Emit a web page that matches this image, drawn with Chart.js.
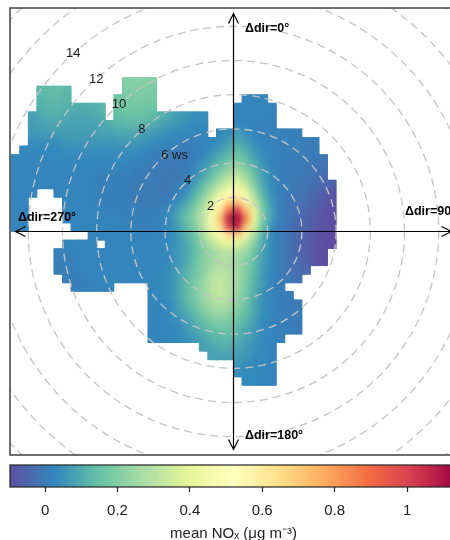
<!DOCTYPE html>
<html><head><meta charset="utf-8">
<script src="https://cdn.jsdelivr.net/npm/chart.js@4/dist/chart.umd.min.js"></script>
<style>
html,body{margin:0;padding:0;background:#fff;overflow:hidden;width:450px;height:540px;position:relative;}
#main{position:absolute;left:0;top:0;}
#bar{position:absolute;left:0;top:455px;}
</style></head><body>
<canvas id="main" width="470" height="460"></canvas>
<canvas id="bar" width="470" height="88"></canvas>
<script>
const _ = null;
// grid cell centres (wind-speed units, x = east/west, y = north/south)
const xCenters = [-12.75,-12.25,-11.75,-11.25,-10.75,-10.25,-9.75,-9.25,-8.75,-8.25,-7.75,-7.25,-6.75,-6.25,-5.75,-5.25,-4.75,-4.25,-3.75,-3.25,-2.75,-2.25,-1.75,-1.25,-0.75,-0.25,0.25,0.75,1.25,1.75,2.25,2.75,3.25,3.75,4.25,4.75,5.25,5.75];
const yCenters = [8.75,8.25,7.75,7.25,6.75,6.25,5.75,5.25,4.75,4.25,3.75,3.25,2.75,2.25,1.75,1.25,0.75,0.25,-0.25,-0.75,-1.25,-1.75,-2.25,-2.75,-3.25,-3.75,-4.25,-4.75,-5.25,-5.75,-6.25,-6.75,-7.25,-7.75,-8.25,-8.75];
// first column index of each row
const rowStart = [13,3,3,3,2,2,2,2,1,0,0,0,0,0,0,0,0,0,9,6,5,5,5,6,7,16,16,16,16,16,16,22,23,26,26,27];
// mean NOx per cell (null = no data)
const noxRows = [
[.20,.21,.21,.20],
[.13,.14,.14,.13,_,_,_,_,_,_,.19,.20,.20,.19],
[.12,.13,.13,.12,_,_,_,_,_,.17,.18,.19,.19,.18,_,_,_,_,_,_,_,_,_,_,.02,.02,.02],
[.11,.12,.12,.11,.11,.11,.11,.12,_,.16,.17,.17,.17,.16,_,_,_,_,_,_,_,_,_,.02,.02,.02,.02,.02],
[.08,.09,.11,.11,.09,.09,.09,.09,.11,_,.14,.15,.15,.15,.14,.12,.09,.07,.06,.04,.04,_,_,_,.02,.02,.02,.02,.02],
[.07,.08,.09,.09,.09,.08,.08,.08,.09,.11,.12,.13,.13,.12,.11,.08,.07,.06,.04,.03,.03,_,_,_,.02,.02,.02,.01,.01],
[.06,.07,.07,.07,.07,.07,.07,.07,.08,.08,.09,.09,.09,.08,.07,.06,.04,.03,.03,.02,.02,_,.03,.04,.07,.04,.02,.01,.01,.01,.01,.01],
[.04,.04,.04,.04,.06,.06,.06,.06,.06,.06,.07,.07,.07,.06,.04,.03,.02,.02,.01,.01,.02,.03,.04,.07,.09,.07,.03,.02,.01,.01,.01,.01,.01,.01],
[.03,.03,.03,.03,.03,.04,.04,.04,.04,.04,.04,.04,.04,.04,.03,.02,.01,.01,0,0,.01,.02,.04,.07,.11,.14,.11,.06,.03,.02,.01,.01,.01,0,0],
[.02,.02,.02,.02,.02,.03,.03,.03,.03,.03,.03,.03,.03,.03,.02,.02,.01,0,0,-.01,0,.01,.03,.07,.11,.15,.18,.14,.08,.04,.02,.01,.01,0,0,0,-.01],
[.02,.02,.02,.02,.02,.02,.02,.02,.02,.02,.02,.02,.02,.02,.01,.01,0,0,-.01,-.01,0,.02,.06,.11,.16,.21,.24,.19,.12,.06,.02,.01,0,0,-.01,-.01,-.02],
[.02,.02,.02,.02,.02,.02,.02,.02,.02,.02,.01,.01,.01,.01,.01,0,0,-.01,-.01,-.01,.01,.04,.09,.15,.22,.28,.31,.25,.15,.07,.03,.01,0,-.01,-.01,-.02,-.03],
[.02,.02,.02,.02,.02,.02,.02,.02,.02,.02,.01,.01,.01,.01,0,0,0,-.01,-.01,0,.02,.07,.14,.21,.30,.37,.40,.32,.19,.09,.03,.01,0,-.01,-.02,-.03,-.04,-.05],
[.02,.02,.02,_,_,.02,.02,.02,.02,.02,.01,.01,.01,.01,0,0,0,-.01,-.01,.01,.04,.11,.19,.29,.40,.50,.55,.42,.25,.12,.04,.01,0,-.01,-.02,-.04,-.06,-.08],
[.02,.02,_,_,_,_,.02,.02,.02,.02,.01,.01,.01,.01,0,0,0,0,.01,.03,.08,.15,.25,.38,.52,.66,.70,.54,.32,.15,.06,.01,-.01,-.02,-.03,-.05,-.07,-.09],
[.02,.02,_,_,_,_,.02,.02,.02,.02,.02,.01,.01,.01,.01,.01,.01,.01,.03,.07,.13,.20,.30,.44,.60,.88,1.00,.72,.40,.18,.07,.01,-.01,-.03,-.04,-.06,-.08,-.10],
[.02,.02,_,_,_,_,.02,.02,.02,.02,.02,.02,.02,.01,.01,.01,.01,.02,.04,.09,.15,.22,.33,.48,.72,1.08,1.13,.85,.42,.18,.07,.01,-.01,-.03,-.05,-.07,-.09,-.10],
[.02,.02,_,_,_,_,_,.02,.02,.02,.02,.02,.02,.02,.01,.01,.01,.02,.03,.07,.13,.20,.30,.45,.65,1.00,1.08,.70,.36,.15,.04,0,-.02,-.04,-.05,-.07,-.09,-.10],
[.02,.02,.02,.02,.02,.02,.02,.02,.02,.03,.06,.11,.17,.26,.38,.50,.62,.65,.45,.26,.11,.03,0,-.02,-.04,-.06,-.08,-.10,-.10],
[.02,.02,.02,.02,_,.02,.02,.02,.02,.02,.02,.02,.03,.06,.09,.15,.22,.30,.37,.40,.38,.30,.20,.09,.03,0,-.02,-.04,-.06,-.08,-.10,-.10],
[.01,.01,.02,.02,.02,.02,.02,.02,.02,.02,.02,.02,.02,.03,.06,.09,.14,.20,.25,.29,.30,.28,.24,.16,.08,.03,0,-.02,-.04,-.06,-.08,-.10],
[.01,.01,.01,.02,.02,.02,.02,.02,.02,.02,.02,.02,.02,.03,.06,.09,.15,.21,.25,.28,.28,.25,.21,.14,.07,.03,0,-.02,-.03,-.06,-.08,-.10],
[.01,.01,.01,.02,.02,.02,.02,.02,.02,.02,.02,.02,.03,.04,.07,.11,.16,.21,.27,.30,.28,.26,.20,.13,.07,.03,0,-.02,-.03,-.04],
[.01,.01,.01,.02,.02,.02,.02,.02,.02,.02,.02,.03,.04,.08,.12,.18,.23,.30,.32,.29,.26,.19,.12,.06,.02,0,-.01,-.02],
[.01,.01,.01,.02,.02,_,_,_,_,.02,.03,.04,.08,.13,.19,.24,.31,.33,.29,.25,.18,.11,.06,.02,0],
[.02,.03,.04,.08,.13,.19,.24,.30,.32,.28,.24,.17,.11,.04,.02,.01,0],
[.02,.02,.03,.07,.12,.17,.23,.27,.29,.27,.22,.16,.09,.04,.02,.01,0,0],
[.02,.02,.03,.07,.09,.14,.19,.23,.25,.23,.19,.14,.09,.04,.02,.01,0,0],
[.02,.02,.03,.04,.07,.11,.15,.18,.20,.19,.16,.12,.07,.03,.02,.01,0,0],
[.02,.02,.02,.03,.06,.09,.12,.14,.16,.16,.13,.09,.06,.03,.02,.01,.01,0],
[.02,.02,.02,.03,.04,.07,.09,.12,.13,.13,.11,.08,.06,.03,.02,.01],
[.08,.09,.11,.11,.09,.07,.04,.03,.02],
[.08,.08,.08,.07,.06,.04,.03,.02],
[.06,.04,.03,.03,.02],
[.04,.03,.03,.02,.02],
[.03,.03,.02,.02]
];
const ringValues = [2,4,6,8,10,12,14,16,18];
const ringLabels = ['2','4','6 ws','8','10','12','14'];
const dirLabels = ['\u0394dir=0\u00b0','\u0394dir=90\u00b0','\u0394dir=180\u00b0','\u0394dir=270\u00b0'];
const colorTicks = [0,0.2,0.4,0.6,0.8,1];
const paletteColors = ['#5E4FA2','#3288BD','#66C2A5','#ABDDA4','#E6F598','#FFFFBF','#FEE08B','#FDAE61','#F46D43','#D53E4F','#9E0142'];
const colorMin = -0.097, colorMax = 1.138;
const plotRange = 13.07;

function hexRgb(h){return [parseInt(h.slice(1,3),16),parseInt(h.slice(3,5),16),parseInt(h.slice(5,7),16)];}
const palRgb = paletteColors.map(hexRgb);
function valueColor(v){
  const n = palRgb.length - 1;
  let t = (v - colorMin) / (colorMax - colorMin);
  t = Math.min(1, Math.max(0, t)) * n;
  const i = Math.min(Math.floor(t), n - 1), f = t - i;
  const a = palRgb[i], b = palRgb[i+1];
  return 'rgb(' + [0,1,2].map(k => Math.round(a[k] + (b[k]-a[k])*f)).join(',') + ')';
}

const cells = [];
noxRows.forEach((row, r) => row.forEach((v, k) => {
  if (v === null || v === undefined) return;
  cells.push({x: xCenters[rowStart[r] + k], y: yCenters[r], v: v});
}));
const cellSize = xCenters[1] - xCenters[0];
function cellRadius(chart){
  const s = chart.scales.x;
  const side = Math.abs(s.getPixelForValue(cellSize) - s.getPixelForValue(0));
  return (side / 2 + 0.4) * Math.SQRT2;
}

const FONT = '"Liberation Sans", Arial, Helvetica, sans-serif';

// softens the cell edges inside the surface (surface is a smooth fit in the original)
const smoothLayer = {
  id: 'smoothLayer',
  afterDatasetDraw(chart, args){
    const ctx = chart.ctx, cv = chart.canvas;
    const off = document.createElement('canvas');
    off.width = cv.width; off.height = cv.height;
    off.getContext('2d').drawImage(cv, 0, 0);
    const half = cellRadius(chart) * Math.SQRT1_2;
    ctx.save();
    ctx.beginPath();
    args.meta.data.forEach(el => ctx.rect(el.x - half, el.y - half, 2 * half, 2 * half));
    ctx.clip();
    ctx.filter = 'blur(3px)';
    ctx.drawImage(off, 0, 0);
    ctx.restore();
  }
};

const polarDecor = {
  id: 'polarDecor',
  afterDatasetsDraw(chart){
    const {ctx, chartArea: a, scales: {x, y}} = chart;
    const cx = x.getPixelForValue(0), cy = y.getPixelForValue(0);
    const unit = x.getPixelForValue(1) - cx;
    ctx.save();
    ctx.beginPath(); ctx.rect(a.left, a.top, a.right - a.left, a.bottom - a.top); ctx.clip();
    ctx.setLineDash([8,5]); ctx.strokeStyle = '#c4c4c4'; ctx.lineWidth = 1.3;
    ringValues.forEach(v => { ctx.beginPath(); ctx.arc(cx, cy, v * unit, 0, Math.PI * 2); ctx.stroke(); });
    ctx.setLineDash([]);
    const reach = 12.75 * unit, ah = 10, aw = 5;
    ctx.strokeStyle = '#000'; ctx.lineWidth = 1.2;
    ctx.beginPath();
    ctx.moveTo(cx - reach, cy); ctx.lineTo(cx + reach, cy);
    ctx.moveTo(cx, cy - reach); ctx.lineTo(cx, cy + reach);
    ctx.moveTo(cx - reach + ah, cy - aw); ctx.lineTo(cx - reach, cy); ctx.lineTo(cx - reach + ah, cy + aw);
    ctx.moveTo(cx + reach - ah, cy - aw); ctx.lineTo(cx + reach, cy); ctx.lineTo(cx + reach - ah, cy + aw);
    ctx.moveTo(cx - aw, cy - reach + ah); ctx.lineTo(cx, cy - reach); ctx.lineTo(cx + aw, cy - reach + ah);
    ctx.moveTo(cx - aw, cy + reach - ah); ctx.lineTo(cx, cy + reach); ctx.lineTo(cx + aw, cy + reach - ah);
    ctx.stroke();
    ctx.fillStyle = '#1a1a1a'; ctx.font = '13px ' + FONT; ctx.textBaseline = 'middle';
    const ang = 42 * Math.PI / 180;
    ringLabels.forEach((lab, i) => {
      const r = ringValues[i] * unit;
      const px = cx - r * Math.sin(ang), py = cy - r * Math.cos(ang);
      const first = lab.split(' ')[0];
      ctx.textAlign = 'left';
      ctx.fillText(lab, px - ctx.measureText(first).width / 2, py);
    });
    ctx.font = 'bold 12.5px ' + FONT; ctx.fillStyle = '#000'; ctx.textAlign = 'left';
    ctx.fillText(dirLabels[0], cx + 11.5, cy - 203);
    ctx.fillText(dirLabels[1], cx + 171.5, cy - 19.5);
    ctx.fillText(dirLabels[2], cx + 11.5, cy + 204);
    ctx.fillText(dirLabels[3], cx - 215.5, cy - 13.5);
    ctx.restore();
    ctx.save();
    ctx.strokeStyle = '#333'; ctx.lineWidth = 1.4;
    ctx.strokeRect(a.left, a.top, a.right - a.left, a.bottom - a.top);
    ctx.restore();
  }
};

new Chart(document.getElementById('main'), {
  type: 'scatter',
  data: { datasets: [{
    data: cells,
    pointStyle: 'rect',
    pointRadius: c => cellRadius(c.chart),
    pointHoverRadius: c => cellRadius(c.chart),
    borderWidth: 0,
    backgroundColor: c => (c.raw ? valueColor(c.raw.v) : '#3288BD')
  }]},
  options: {
    responsive: false, animation: false, events: [],
    layout: { padding: { left: 10, top: 8, right: 13, bottom: 5 } },
    plugins: { legend: { display: false }, tooltip: { enabled: false } },
    scales: {
      x: { type: 'linear', display: false, min: -plotRange, max: plotRange },
      y: { type: 'linear', display: false, min: -plotRange, max: plotRange }
    }
  },
  plugins: [smoothLayer, polarDecor]
});

const barDecor = {
  id: 'barDecor',
  beforeDatasetsDraw(chart){
    const {ctx, chartArea: a, scales: {x}} = chart;
    const x0 = x.getPixelForValue(colorMin), x1 = x.getPixelForValue(colorMax);
    const g = ctx.createLinearGradient(x0, 0, x1, 0);
    paletteColors.forEach((c, i) => g.addColorStop(i / (paletteColors.length - 1), c));
    ctx.save();
    ctx.fillStyle = g;
    ctx.fillRect(a.left, a.top, a.right - a.left, a.bottom - a.top);
    ctx.strokeStyle = '#222'; ctx.lineWidth = 1.2;
    ctx.strokeRect(a.left, a.top, a.right - a.left, a.bottom - a.top);
    ctx.restore();
  }
};

new Chart(document.getElementById('bar'), {
  type: 'scatter',
  data: { datasets: [] },
  options: {
    responsive: false, animation: false, events: [],
    layout: { padding: { left: 10, top: 10, right: 13, bottom: 0 } },
    plugins: { legend: { display: false }, tooltip: { enabled: false } },
    scales: {
      x: {
        type: 'linear', position: 'bottom', min: colorMin, max: colorMax,
        afterBuildTicks: s => { s.ticks = colorTicks.map(v => ({ value: v })); },
        afterFit: s => { s.height = 56; },
        ticks: { callback: v => String(Number(v.toFixed(1))), font: { family: FONT, size: 15 }, color: '#222', padding: 10, maxRotation: 0, autoSkip: false },
        grid: { drawOnChartArea: false, drawTicks: true, tickLength: 5, tickColor: '#222', tickWidth: 1.2 },
        border: { display: false },
        title: { display: true, text: 'mean NO\u2093 (\u03bcg m\u207b\u00b3)', font: { family: FONT, size: 15 }, color: '#222', padding: { top: 0, bottom: 0 } }
      },
      y: { display: false, min: 0, max: 1 }
    }
  },
  plugins: [barDecor]
});
</script>
</body></html>
